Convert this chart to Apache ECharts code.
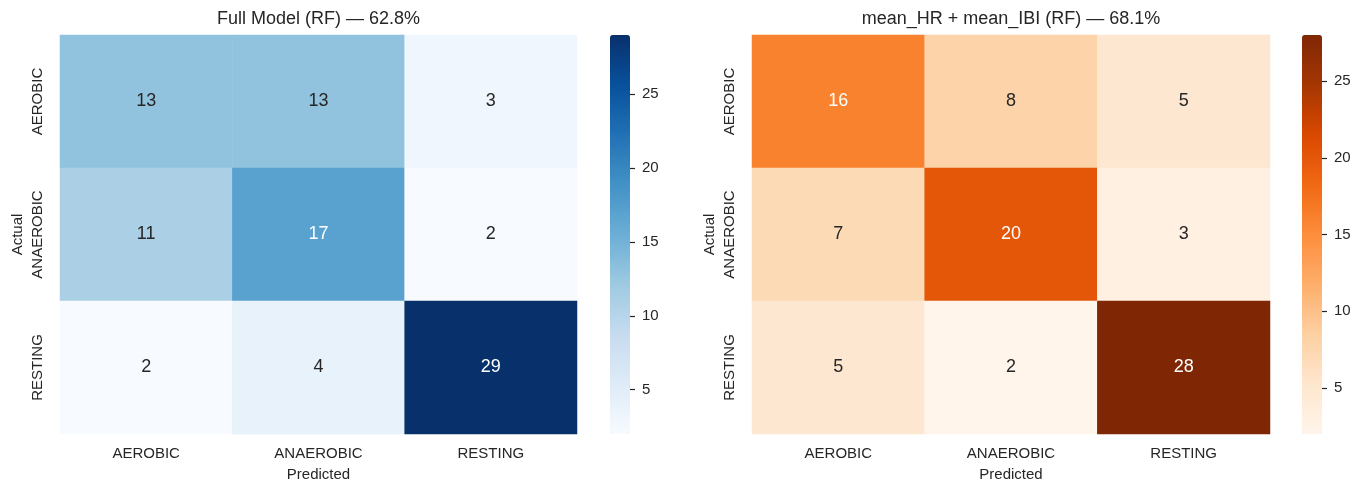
<!DOCTYPE html>
<html>
<head>
<meta charset="utf-8">
<script src="https://cdn.jsdelivr.net/npm/echarts@6/dist/echarts.min.js"></script>
<style>
  html, body { margin: 0; padding: 0; background: #ffffff; }
  #chart { width: 1368px; height: 482px; }
</style>
</head>
<body>
<div id="chart"></div>
<script>
// Class labels (rows = actual, columns = predicted)
const classes = ['AEROBIC', 'ANAEROBIC', 'RESTING'];

// Confusion matrices, row by row
const fullModelCounts = [
  [13, 13, 3],
  [11, 17, 2],
  [2, 4, 29]
];
const hrIbiCounts = [
  [16, 8, 5],
  [7, 20, 3],
  [5, 2, 28]
];

const fullModelTitle = 'Full Model (RF) \u2014 62.8%';
const hrIbiTitle = 'mean_HR + mean_IBI (RF) \u2014 68.1%';

// Colour bar tick values
const colorbarTicks = [5, 10, 15, 20, 25];

// ColorBrewer sequential ramps
const BLUES = ['#f7fbff', '#deebf7', '#c6dbef', '#9ecae1', '#6baed6', '#4292c6', '#2171b5', '#08519c', '#08306b'];
const ORANGES = ['#fff5eb', '#fee6ce', '#fdd0a2', '#fdae6b', '#fd8d3c', '#f16913', '#d94801', '#a63603', '#7f2704'];

const INK = '#262626';
const FONT = '"Liberation Sans", Arial, sans-serif';

function hexToRgb(h) {
  return [parseInt(h.slice(1, 3), 16), parseInt(h.slice(3, 5), 16), parseInt(h.slice(5, 7), 16)];
}
function rampColor(ramp, t) {
  t = Math.max(0, Math.min(1, t));
  const pos = t * (ramp.length - 1);
  const i = Math.min(Math.floor(pos), ramp.length - 2);
  const f = pos - i;
  const a = hexToRgb(ramp[i]), b = hexToRgb(ramp[i + 1]);
  return a.map((v, k) => v + (b[k] - v) * f);
}
function luminance(rgb) {
  const c = rgb.map(v => {
    v = v / 255;
    return v <= 0.03928 ? v / 12.92 : Math.pow((v + 0.055) / 1.055, 2.4);
  });
  return 0.2126 * c[0] + 0.7152 * c[1] + 0.0722 * c[2];
}

function flatMin(m) { return Math.min(...m.flat()); }
function flatMax(m) { return Math.max(...m.flat()); }

// Build heatmap data with annotation colour chosen from cell brightness
function heatData(matrix, ramp) {
  const lo = flatMin(matrix), hi = flatMax(matrix);
  const out = [];
  matrix.forEach((row, r) => {
    row.forEach((v, c) => {
      const rgb = rampColor(ramp, (v - lo) / (hi - lo));
      out.push({
        value: [c, r, v],
        label: { color: luminance(rgb) > 0.408 ? INK : '#ffffff' }
      });
    });
  });
  return out;
}

// Integer steps spanning the colour range, evenly spaced along the bar
function integerSteps(lo, hi) {
  const out = [];
  for (let v = lo; v <= hi; v++) out.push(String(v));
  return out;
}

const panels = [
  { counts: fullModelCounts, ramp: BLUES, title: fullModelTitle, left: 60, width: 517, cbLeft: 610 },
  { counts: hrIbiCounts, ramp: ORANGES, title: hrIbiTitle, left: 752, width: 518, cbLeft: 1302 }
];
const TOP = 35, HEIGHT = 399, CBW = 20, TICK = 5;

const option = {
  backgroundColor: '#ffffff',
  animation: false,
  textStyle: { fontFamily: FONT },
  title: [],
  grid: [],
  xAxis: [],
  yAxis: [],
  visualMap: [],
  series: []
};

const isColorbarTick = (i, v) => colorbarTicks.indexOf(Number(v)) !== -1;

panels.forEach((p, k) => {
  const lo = flatMin(p.counts), hi = flatMax(p.counts);
  option.title.push({
    text: p.title,
    left: p.left + p.width / 2,
    top: 10,
    textAlign: 'center',
    padding: 0,
    textStyle: { fontFamily: FONT, fontSize: 18, fontWeight: 'normal', color: INK }
  });

  // heatmap grid
  option.grid.push({ left: p.left, top: TOP, width: p.width, height: HEIGHT, containLabel: false, outerBoundsMode: 'none' });
  const g = option.grid.length - 1;
  option.xAxis.push({
    type: 'category', gridIndex: g, data: classes,
    name: 'Predicted', nameLocation: 'middle', nameGap: 33,
    nameTextStyle: { fontFamily: FONT, fontSize: 15, color: INK },
    axisLine: { show: false }, axisTick: { show: false }, splitLine: { show: false },
    axisLabel: { fontFamily: FONT, fontSize: 15, color: INK, margin: 12 }
  });
  option.yAxis.push({
    type: 'category', gridIndex: g, data: classes, inverse: true,
    name: 'Actual', nameLocation: 'middle', nameGap: 35, nameRotate: 90,
    nameTextStyle: { fontFamily: FONT, fontSize: 15, color: INK },
    axisLine: { show: false }, axisTick: { show: false }, splitLine: { show: false },
    axisLabel: { fontFamily: FONT, fontSize: 15, color: INK, rotate: 90, margin: 15 }
  });
  option.series.push({
    type: 'heatmap', xAxisIndex: g, yAxisIndex: g,
    data: heatData(p.counts, p.ramp),
    label: { show: true, fontFamily: FONT, fontSize: 18, formatter: d => String(d.value[2]) },
    itemStyle: { borderWidth: 0 },
    emphasis: { disabled: true }
  });
  const s = option.series.length - 1;

  // colour bar
  option.visualMap.push({
    type: 'continuous', seriesIndex: s, dimension: 2,
    min: lo, max: hi, calculable: false, hoverLink: false,
    orient: 'vertical', left: p.cbLeft, top: TOP, padding: 0,
    itemWidth: CBW, itemHeight: HEIGHT, text: null, showLabel: false,
    inRange: { color: p.ramp }
  });

  // colour bar scale: a thin strip beside the bar, one step per integer,
  // tick marks drawn as short split lines every 5
  option.grid.push({ left: p.cbLeft + CBW, top: TOP, width: TICK, height: HEIGHT, containLabel: false, outerBoundsMode: 'none' });
  const cg = option.grid.length - 1;
  option.xAxis.push({ type: 'value', gridIndex: cg, show: false, min: 0, max: 1 });
  option.yAxis.push({
    type: 'category', gridIndex: cg, position: 'right', boundaryGap: false,
    data: integerSteps(lo, hi),
    axisLine: { show: false }, axisTick: { show: false },
    splitLine: { show: true, interval: isColorbarTick, lineStyle: { color: INK, width: 1.2, type: 'solid' } },
    axisLabel: { fontFamily: FONT, fontSize: 15, color: INK, margin: 7, interval: isColorbarTick }
  });
});

const chart = echarts.init(document.getElementById('chart'), null, { renderer: 'canvas' });
chart.setOption(option);
</script>
</body>
</html>
